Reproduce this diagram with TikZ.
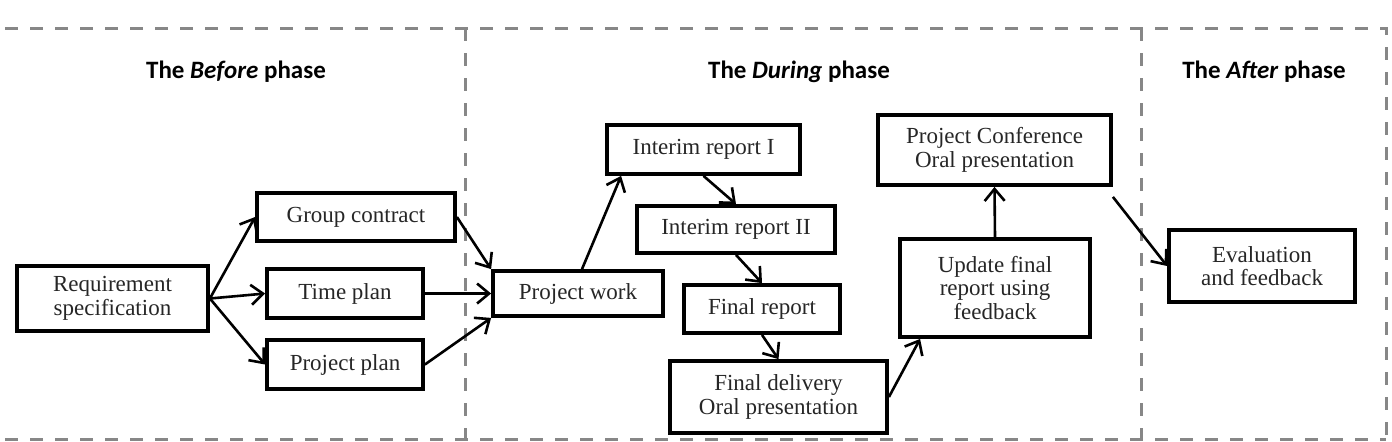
\documentclass[tikz,border=0pt]{standalone}
\usepackage{fontspec}
\setmainfont{Liberation Serif}
\newfontfamily\titlefont{Carlito}
\usepackage{tikz}
\usetikzlibrary{arrows.meta,positioning,calc}
\definecolor{framegray}{RGB}{135,135,135}

\begin{document}
\begin{tikzpicture}[x=0.5pt,y=-0.5pt,
    phase/.style={font=\titlefont\fontsize{12.5}{14}\selectfont\bfseries},
    task/.style={draw,line width=1.9pt,align=center,inner sep=0pt,text=black!85,
      font=\fontsize{11.5}{11.8}\selectfont},
    flow/.style={line width=1.3pt,-{Straight Barb[length=6pt,width=10pt,line width=1.3pt]}},
    frame/.style={draw=framegray,line width=1.5pt,dash pattern=on 6.5pt off 6pt}]
  \useasboundingbox (0,0) rectangle (1392,441);

  % phase frames
  \draw[frame] (5,28) -- (1386,28) -- (1386,441);
  \draw[frame] (5,439) -- (1386,439);
  \draw[frame] (465,28) -- (465,441);
  \draw[frame] (1141,28) -- (1141,441);

  \node[phase] (before) at (236,72) {The \textit{Before} phase};
  \node[phase] (during) at (799,72) {The \textit{During} phase};
  \node[phase] (after)  at (1264,72) {The \textit{After} phase};

  % before
  \node[task,minimum width=95.5pt,minimum height=32.5pt] (req) at (112.5,298.5) {Requirement\\specification};
  \node[task,minimum width=99pt,minimum height=24pt] (contract) at (356,217) {Group contract};
  \node[task,minimum width=78pt,minimum height=24.5pt] (timeplan) at (345,293.5) {Time plan};
  \node[task,minimum width=78pt,minimum height=24.5pt] (projplan) at (345,364.5) {Project plan};

  % during
  \node[task,minimum width=85pt,minimum height=22.5pt] (work) at (578,293.5) {Project work};
  \node[task,minimum width=96.5pt,minimum height=24.5pt] (interimI) at (703.5,149.5) {Interim report I};
  \node[task,minimum width=99pt,minimum height=23.5pt] (interimII) at (736,229.5) {Interim report II};
  \node[task,minimum width=78pt,minimum height=24pt] (final) at (762,309) {Final report};
  \node[task,minimum width=108.5pt,minimum height=36pt] (delivery) at (778.5,397) {Final delivery\\Oral presentation};
  \node[task,minimum width=95pt,minimum height=49pt] (update) at (995,288) {Update final\\report using\\feedback};
  \node[task,minimum width=116.5pt,minimum height=35pt] (conference) at (994.5,150) {Project Conference\\Oral presentation};

  % after
  \node[task,minimum width=93pt,minimum height=36pt] (evaluation) at (1262,266) {Evaluation\\and feedback};

  \draw[flow] (req.east) -- (contract.west);
  \draw[flow] (req.east) -- (timeplan.west);
  \draw[flow] (req.east) -- (projplan.west);
  \draw[flow] (contract.east) -- (work.north west);
  \draw[flow] (timeplan.east) -- (work.west);
  \draw[flow] (projplan.east) -- (work.south west);
  \draw[flow] ([xshift=2pt]work.north) -- ([xshift=8pt]interimI.south west);
  \draw[flow] (interimI.south) -- (interimII.north);
  \draw[flow] (interimII.south) -- (final.north);
  \draw[flow] (final.south) -- (delivery.north);
  \draw[flow] (delivery.east) -- ([xshift=11pt]update.south west);
  \draw[flow] (update.north) -- (conference.south);
  \draw[flow] ([yshift=-5pt]conference.south east) -- (evaluation.west);
\end{tikzpicture}
\end{document}
